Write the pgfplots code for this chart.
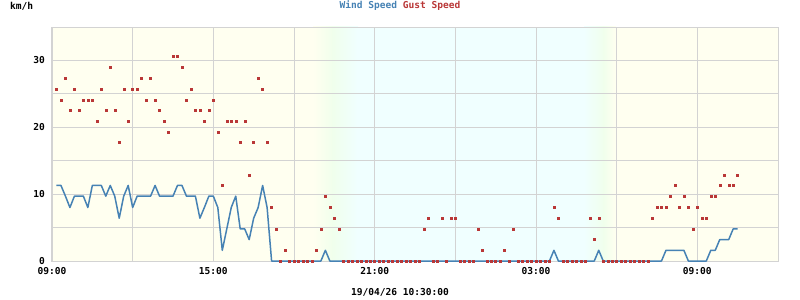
\documentclass[border=0pt]{standalone}
\usepackage{pgfplots}
\pgfplotsset{compat=1.18}
\usepackage{pgfplotstable}
\usepackage{fontspec}
\setmainfont{DejaVu Sans Mono}
\definecolor{windc}{RGB}{70,130,180}
\definecolor{gustc}{RGB}{185,55,55}
\definecolor{dayc}{RGB}{255,255,240}
\definecolor{nightc}{RGB}{240,255,255}
\definecolor{twic}{RGB}{240,255,236}
\definecolor{gridc}{RGB}{211,211,211}
\newcommand\pix{\fontsize{9.6}{11}\selectfont\bfseries}

\pgfplotstableread{
k wind gust
1 11.3 25.7
2 11.3 24.1
3 9.7 27.4
4 8.0 22.5
5 9.7 25.7
6 9.7 22.5
7 9.7 24.1
8 8.0 24.1
9 11.3 24.1
10 11.3 20.9
11 11.3 25.7
12 9.7 22.5
13 11.3 29.0
14 9.7 22.5
15 6.4 17.7
16 9.7 25.7
17 11.3 20.9
18 8.0 25.7
19 9.7 25.7
20 9.7 27.4
21 9.7 24.1
22 9.7 27.4
23 11.3 24.1
24 9.7 22.5
25 9.7 20.9
26 9.7 19.3
27 9.7 30.6
28 11.3 30.6
29 11.3 29.0
30 9.7 24.1
31 9.7 25.7
32 9.7 22.5
33 6.4 22.5
34 8.0 20.9
35 9.7 22.5
36 9.7 24.1
37 8.0 19.3
38 1.6 11.3
39 4.8 20.9
40 8.0 20.9
41 9.7 20.9
42 4.8 17.7
43 4.8 20.9
44 3.2 12.9
45 6.4 17.7
46 8.0 27.4
47 11.3 25.7
48 8.0 17.7
49 0 8.0
50 0 4.8
51 0 0
52 0 1.6
53 0 0
54 0 0
55 0 0
56 0 0
57 0 0
58 0 0
59 0 1.6
60 0 4.8
61 1.6 9.7
62 0 8.0
63 0 6.4
64 0 4.8
65 0 0
66 0 0
67 0 0
68 0 0
69 0 0
70 0 0
71 0 0
72 0 0
73 0 0
74 0 0
75 0 0
76 0 0
77 0 0
78 0 0
79 0 0
80 0 0
81 0 0
82 0 0
83 0 4.8
84 0 6.4
85 0 0
86 0 0
87 0 6.4
88 0 0
89 0 6.4
90 0 6.4
91 0 0
92 0 0
93 0 0
94 0 0
95 0 4.8
96 0 1.6
97 0 0
98 0 0
99 0 0
100 0 0
101 0 1.6
102 0 0
103 0 4.8
104 0 0
105 0 0
106 0 0
107 0 0
108 0 0
109 0 0
110 0 0
111 0 0
112 1.6 8.0
113 0 6.4
114 0 0
115 0 0
116 0 0
117 0 0
118 0 0
119 0 0
120 0 6.4
121 0 3.2
122 1.6 6.4
123 0 0
124 0 0
125 0 0
126 0 0
127 0 0
128 0 0
129 0 0
130 0 0
131 0 0
132 0 0
133 0 0
134 0 6.4
135 0 8.0
136 0 8.0
137 1.6 8.0
138 1.6 9.7
139 1.6 11.3
140 1.6 8.0
141 1.6 9.7
142 0 8.0
143 0 4.8
144 0 8.0
145 0 6.4
146 0 6.4
147 1.6 9.7
148 1.6 9.7
149 3.2 11.3
150 3.2 12.9
151 3.2 11.3
152 4.8 11.3
153 4.8 12.9
}\data

\begin{document}
\begin{tikzpicture}
\path[use as bounding box] (-52bp,-39bp) rectangle (748bp,261bp);
\fill[dayc] (0,0) rectangle (726bp,234bp);
\shade[left color=dayc,right color=twic] (261bp,0) rectangle (281bp,234bp);
\shade[left color=twic,right color=nightc] (280bp,0) rectangle (306bp,234bp);
\fill[nightc] (305bp,0) rectangle (533bp,234bp);
\shade[left color=nightc,right color=twic] (532bp,0) rectangle (552bp,234bp);
\shade[left color=twic,right color=dayc] (551bp,0) rectangle (564bp,234bp);
\begin{axis}[
  at={(0,0)}, anchor=south west,
  scale only axis, width=726bp, height=234bp,
  xmin=0, xmax=162, ymin=0, ymax=35,
  xtick={0,36,72,108,144},
  xticklabels={09:00,15:00,21:00,03:00,09:00},
  minor xtick={18,54,90,126},
  ytick={0,10,20,30},
  minor ytick={5,15,25,35},
  grid=both,
  grid style={draw=gridc, line width=0.9bp},
  minor grid style={draw=gridc, line width=0.9bp},
  axis line style={draw=gridc, line width=1bp},
  major tick length=0pt, minor tick length=0pt,
  tick style={draw=none},
  tick label style={font=\pix, text=black},
  /pgf/number format/assume math mode=true,
  xticklabel style={anchor=base, inner sep=0pt, yshift=-13.5bp},
  yticklabel style={anchor=east, inner sep=0pt, xshift=-7bp},
  clip=false,
]
\addplot[only marks, mark=square*, mark size=1bp, color=gustc] table[x=k, y=gust]{\data};
\addplot[color=windc, line width=1.5bp, no marks, line join=round] table[x=k, y=wind]{\data};
\end{axis}
\node[font=\pix, text=black] at (-30.3bp,255bp) {km/h};
\node[font=\pix] at (348bp,255bp) {\textcolor{windc}{Wind Speed} \textcolor{gustc}{Gust Speed}};
\node[font=\pix, text=black] at (348bp,-31bp) {19/04/26 10:30:00};
\end{tikzpicture}
\end{document}
